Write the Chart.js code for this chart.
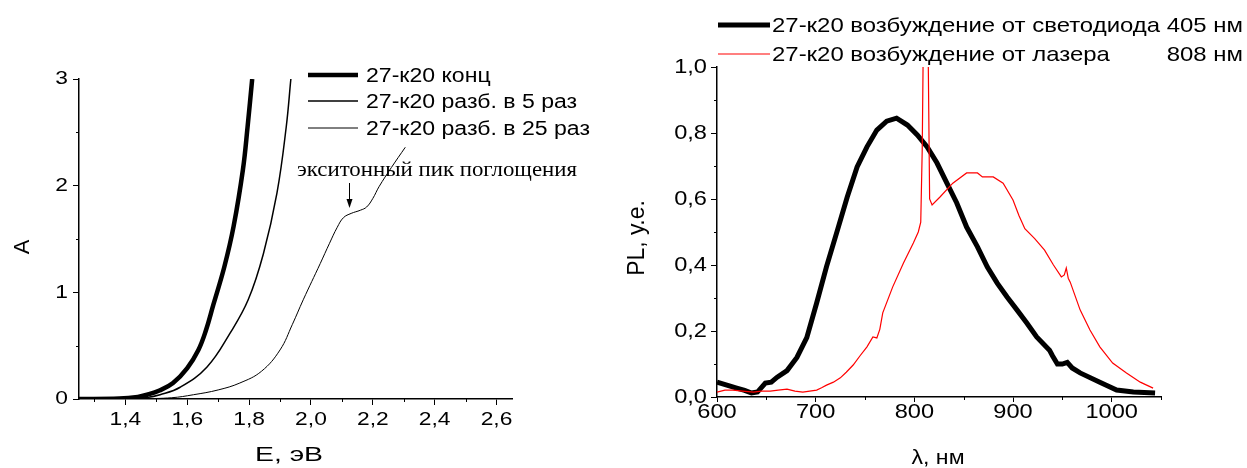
<!DOCTYPE html>
<html><head><meta charset="utf-8">
<script src="https://cdn.jsdelivr.net/npm/chart.js@4.4.1/dist/chart.umd.min.js"></script>
<style>
html,body{margin:0;padding:0;background:#fff;}
#wrap{position:relative;width:1247px;height:468px;overflow:hidden;}
#c1{position:absolute;left:0;top:0;}
#c2{position:absolute;left:600px;top:0;}
</style></head><body>
<div id="wrap"><canvas id="c1" width="600" height="468"></canvas><canvas id="c2" width="647" height="468"></canvas></div>
<script>
// ---------- Left chart: absorbance vs energy ----------
const concE = [1.25, 1.38, 1.44, 1.47, 1.51, 1.554, 1.60, 1.636, 1.66, 1.684, 1.72, 1.75, 1.78, 1.795, 1.81];
const concA = [0.0, 0.005, 0.02, 0.04, 0.08, 0.15, 0.29, 0.46, 0.64, 0.88, 1.24, 1.62, 2.15, 2.55, 3.0];
const dil5E = [1.25, 1.40, 1.47, 1.512, 1.577, 1.664, 1.739, 1.797, 1.846, 1.89, 1.92, 1.935];
const dil5A = [0.0, 0.004, 0.015, 0.04, 0.11, 0.30, 0.62, 0.93, 1.36, 1.93, 2.55, 3.0];
const dil25E = [1.25, 1.45, 1.55, 1.62, 1.70, 1.77, 1.84, 1.90, 1.94, 1.975, 2.03, 2.06, 2.085, 2.105, 2.13, 2.16, 2.18, 2.20, 2.22, 2.26, 2.305];
const dil25A = [0.0, 0.003, 0.012, 0.04, 0.085, 0.15, 0.26, 0.46, 0.70, 0.93, 1.27, 1.46, 1.61, 1.70, 1.74, 1.77, 1.80, 1.88, 1.99, 2.17, 2.36];
const leftXTicks = [1.4, 1.6, 1.8, 2.0, 2.2, 2.4, 2.6];
const leftXMinor = [1.3, 1.5, 1.7, 1.9, 2.1, 2.3, 2.5];
const leftYTicks = [0, 1, 2, 3];
const leftYMinor = [0.5, 1.5, 2.5];
const leftLabels = ['27-к20 конц', '27-к20 разб. в 5 раз', '27-к20 разб. в 25 раз'];

// ---------- Right chart: PL vs wavelength ----------
const ledL = [600,610,620,628,635,641,649,655,661,671,681,691,701,711,722,732,742,752,762,772,782,793,803,813,823,833,843,853,864,874,884,894,904,914,924,937,940,945,950,955,960,968,988,1005,1022,1044];
const ledPL = [0.045,0.036,0.027,0.02,0.012,0.015,0.042,0.045,0.06,0.08,0.12,0.18,0.285,0.395,0.505,0.606,0.697,0.758,0.809,0.836,0.845,0.824,0.794,0.758,0.709,0.648,0.588,0.515,0.455,0.394,0.345,0.303,0.264,0.224,0.182,0.142,0.125,0.10,0.10,0.105,0.088,0.073,0.045,0.021,0.015,0.012];
const lasL = [600,608,616,626,637,645,654,662,671,679,687,694,701,706,711,718,725,731,738,745,752,758,762,765,768,778,789,799,804,806.5,808,809,814,815.5,818,826,839,853,864,869,880,890,900,906,912,922,932,941,949,952,954,956,958,968,978,988,1001,1015,1029,1042];
const lasPL = [0.015,0.021,0.021,0.018,0.015,0.018,0.018,0.021,0.024,0.018,0.015,0.018,0.021,0.028,0.036,0.045,0.058,0.075,0.097,0.125,0.152,0.182,0.179,0.205,0.255,0.333,0.406,0.467,0.50,0.53,0.75,1.05,1.05,0.60,0.582,0.606,0.648,0.679,0.679,0.667,0.667,0.648,0.597,0.55,0.51,0.48,0.445,0.400,0.364,0.37,0.391,0.36,0.348,0.264,0.203,0.152,0.103,0.073,0.045,0.027];
const rightXTicks = [600, 700, 800, 900, 1000];
const rightXMinor = [650, 750, 850, 950, 1050];
const rightYTicks = [0, 0.2, 0.4, 0.6, 0.8, 1.0];
const rightYMinor = [0.1, 0.3, 0.5, 0.7, 0.9];
const rightLabels = ['27-к20 возбуждение от светодиода 405 нм', '27-к20 возбуждение от лазера', '808 нм'];

const SANS = '"Liberation Sans", Arial, sans-serif';
const SERIF = '"Liberation Serif", "Times New Roman", serif';
const pts = (xs, ys) => xs.map((x, i) => ({x: x, y: ys[i]}));
const comma = (v, d) => v.toFixed(d).replace('.', ',');

function drawMinor(chart, id, values, len) {
  const s = chart.scales[id], ctx = chart.ctx, ca = chart.chartArea;
  ctx.save(); ctx.strokeStyle = '#000'; ctx.lineWidth = 1;
  values.forEach(v => {
    const p = Math.round(s.getPixelForValue(v)) + 0.5;
    ctx.beginPath();
    if (s.isHorizontal()) { ctx.moveTo(p, ca.bottom); ctx.lineTo(p, ca.bottom + len); }
    else { ctx.moveTo(ca.left, p); ctx.lineTo(ca.left - len, p); }
    ctx.stroke();
  });
  ctx.restore();
}
function text(ctx, str, x, y, o) {
  ctx.save();
  ctx.font = o.size + 'px ' + (o.family || SANS);
  ctx.fillStyle = '#000'; ctx.textBaseline = 'middle';
  let sx = o.sx || 1;
  if (o.width) sx = o.width / ctx.measureText(str).width;
  ctx.translate(x, y);
  if (o.rot) ctx.rotate(o.rot);
  ctx.scale(sx, 1);
  ctx.textAlign = o.align || 'left';
  ctx.fillText(str, 0, 0);
  ctx.restore();
  return sx;
}
function fitScale(ctx, str, size, family, width) {
  ctx.save(); ctx.font = size + 'px ' + (family || SANS);
  const w = ctx.measureText(str).width; ctx.restore(); return width / w;
}
function hline(ctx, x1, x2, y, w, c) {
  ctx.save(); ctx.strokeStyle = c; ctx.lineWidth = w; ctx.beginPath();
  ctx.moveTo(x1, y); ctx.lineTo(x2, y); ctx.stroke(); ctx.restore();
}
function tickLabels(chart, id, fmt, size, sx, off) {
  const s = chart.scales[id], ca = chart.chartArea, ctx = chart.ctx;
  s.ticks.forEach(t => {
    const p = s.getPixelForValue(t.value);
    if (s.isHorizontal()) text(ctx, fmt(t.value), p, ca.bottom + off, {size: size, sx: sx, align: 'center'});
    else text(ctx, fmt(t.value), ca.left - off, p, {size: size, sx: sx, align: 'right'});
  });
}

function axis(min, max, ticks, tl, fitProp, fitVal) {
  return {
    type: 'linear', min: min, max: max,
    afterBuildTicks: s => { s.ticks = ticks.map(v => ({value: v})); },
    afterFit: s => { s[fitProp] = fitVal; },
    ticks: { display: false, autoSkip: false },
    grid: { display: true, drawOnChartArea: false, drawTicks: true, tickLength: tl, tickColor: '#000', tickWidth: 1 },
    border: { display: true, color: '#000', width: 1.5 },
    title: { display: false }
  };
}

const leftPlugin = {
  id: 'leftDeco',
  afterDraw(chart) {
    const ctx = chart.ctx;
    drawMinor(chart, 'x', leftXMinor, 3);
    drawMinor(chart, 'y', leftYMinor, 3);
    tickLabels(chart, 'x', v => comma(v, 1), 19, 1.2, 21);
    tickLabels(chart, 'y', v => String(Math.round(v)), 19, 1.2, 11);
    text(ctx, 'A', 23, 247, {size: 22, rot: -Math.PI / 2, align: 'center'});
    text(ctx, 'E, эВ', 289, 455, {size: 21, align: 'center', width: 68});
    const rows = [75, 101, 128], widths = [4.5, 1.5, 1];
    const lsx = fitScale(ctx, leftLabels[2], 20, SANS, 224);
    rows.forEach((y, i) => {
      hline(ctx, 308, 358, y, widths[i], '#000');
      text(ctx, leftLabels[i], 366, y + 1, {size: 20, sx: lsx});
    });
    text(ctx, 'экситонный пик поглощения', 297, 170, {size: 22, family: SERIF, width: 280});
    ctx.save(); ctx.strokeStyle = '#000'; ctx.fillStyle = '#000'; ctx.lineWidth = 1;
    ctx.beginPath(); ctx.moveTo(349.5, 183); ctx.lineTo(349.5, 202); ctx.stroke();
    ctx.beginPath(); ctx.moveTo(346.5, 199); ctx.lineTo(352.5, 199); ctx.lineTo(349.5, 208); ctx.closePath(); ctx.fill();
    ctx.restore();
  }
};

const rightPlugin = {
  id: 'rightDeco',
  afterDraw(chart) {
    const ctx = chart.ctx;
    drawMinor(chart, 'x', rightXMinor, 3);
    drawMinor(chart, 'y', rightYMinor, 3);
    tickLabels(chart, 'x', v => String(v), 20, 1.18, 15);
    tickLabels(chart, 'y', v => comma(v, 1), 20, 1.18, 10);
    text(ctx, 'PL, у.е.', 38, 238, {size: 23, rot: -Math.PI / 2, align: 'center'});
    text(ctx, 'λ, нм', 338, 458, {size: 21, align: 'center', width: 53});
    const rsx = fitScale(ctx, rightLabels[0], 21, SANS, 471);
    hline(ctx, 118, 170, 25, 5, '#000');
    text(ctx, rightLabels[0], 172, 26, {size: 21, sx: rsx});
    hline(ctx, 118, 170, 54, 1.2, '#ff0000');
    text(ctx, rightLabels[1], 172, 55, {size: 21, sx: rsx});
    text(ctx, rightLabels[2], 643, 55, {size: 21, sx: rsx, align: 'right'});
  }
};

const common = {
  responsive: false, animation: false, events: [],
  plugins: { legend: { display: false }, tooltip: { enabled: false } },
  elements: { point: { radius: 0 } }
};

new Chart(document.getElementById('c1'), {
  type: 'line',
  data: { datasets: [
    { data: pts(concE, concA), borderColor: '#000', borderWidth: 4.5, tension: 0.4, fill: false },
    { data: pts(dil5E, dil5A), borderColor: '#000', borderWidth: 1.5, tension: 0.4, fill: false },
    { data: pts(dil25E, dil25A), borderColor: '#000', borderWidth: 1, tension: 0.4, fill: false }
  ]},
  options: Object.assign({}, common, {
    layout: { padding: { top: 79, right: 88, bottom: 0, left: 0 } },
    scales: {
      x: axis(1.25, 2.65, leftXTicks, 6, 'height', 69),
      y: axis(0, 3, leftYTicks, 6, 'width', 79)
    }
  }),
  plugins: [leftPlugin]
});

new Chart(document.getElementById('c2'), {
  type: 'line',
  data: { datasets: [
    { data: pts(ledL, ledPL), borderColor: '#000', borderWidth: 5, tension: 0, order: 2, fill: false },
    { data: pts(lasL, lasPL), borderColor: '#ff0000', borderWidth: 1.2, tension: 0, order: 1, fill: false }
  ]},
  options: Object.assign({}, common, {
    layout: { padding: { top: 67, right: 86, bottom: 0, left: 0 } },
    scales: {
      x: axis(600, 1050, rightXTicks, 5, 'height', 71),
      y: axis(0, 1, rightYTicks, 6, 'width', 117)
    }
  }),
  plugins: [rightPlugin]
});
</script>
</body></html>
